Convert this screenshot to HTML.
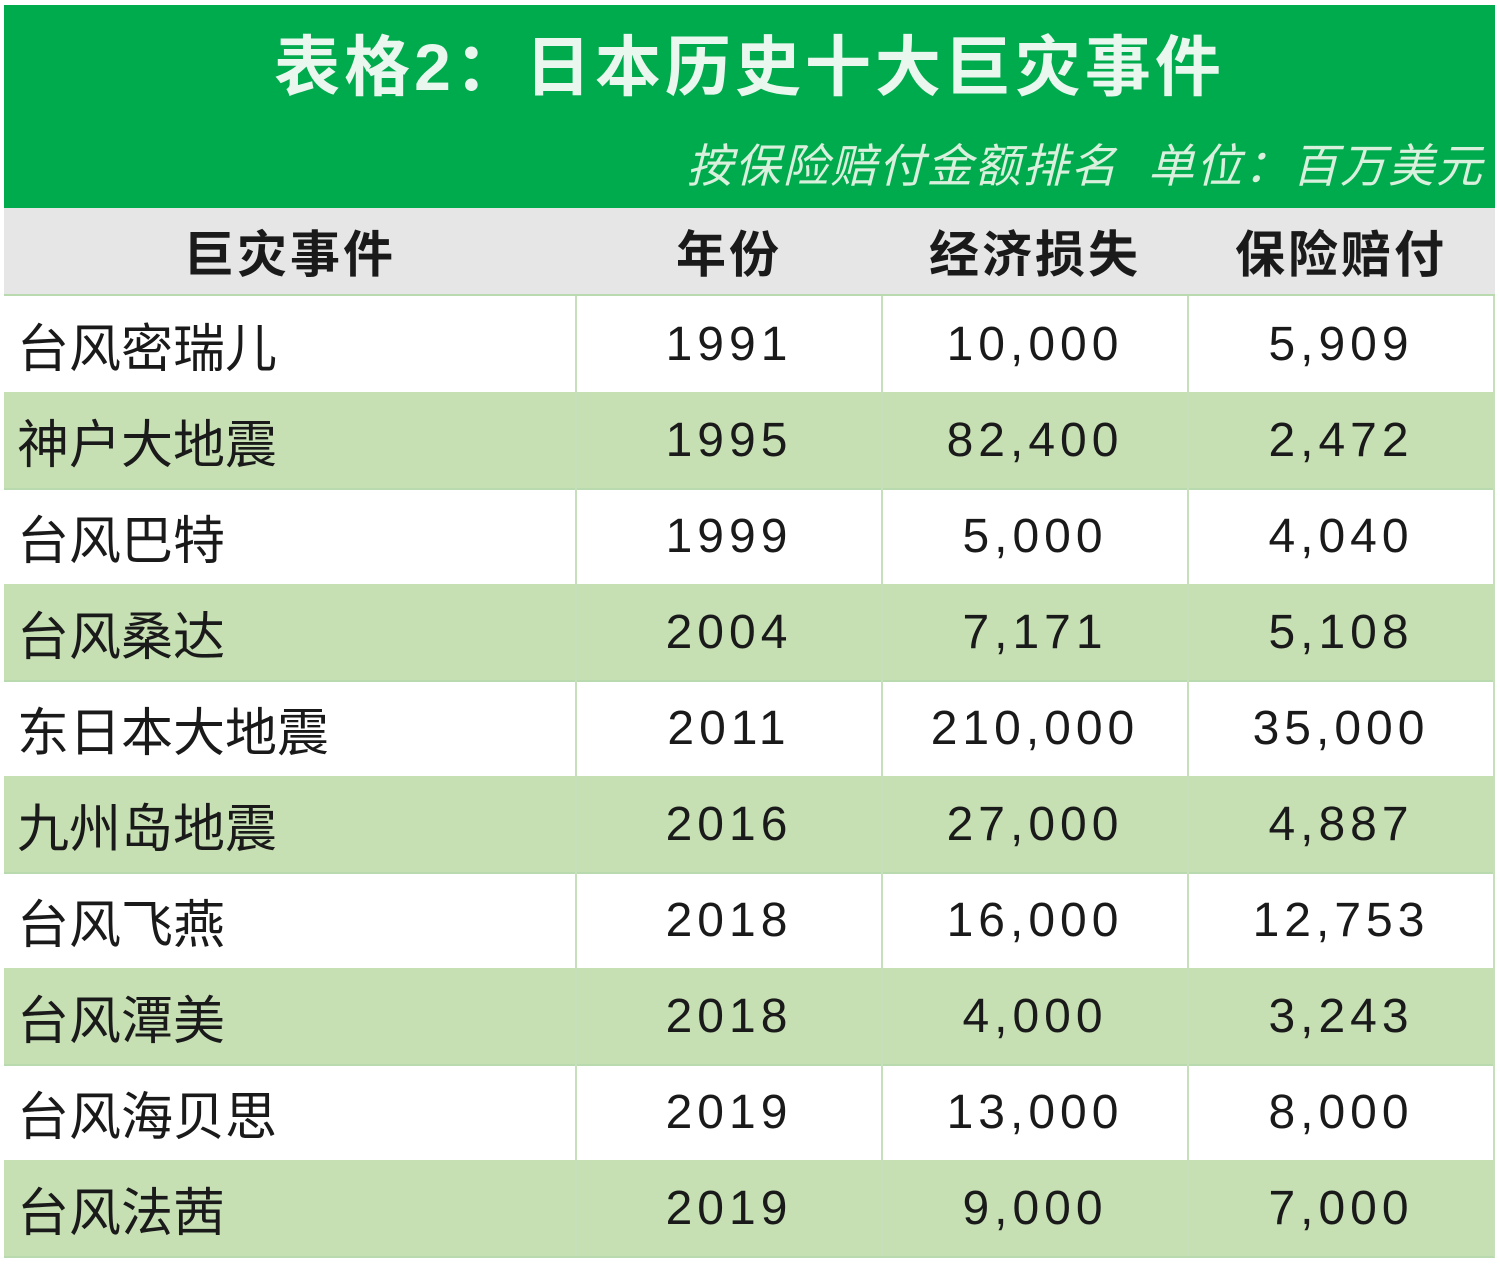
<!DOCTYPE html>
<html><head><meta charset="utf-8"><style>
body{margin:0;width:1500px;height:1264px;background:#fff;position:relative;overflow:hidden;font-family:"Liberation Sans","Noto Sans CJK SC",sans-serif;}
.g{position:absolute;left:4px;top:5px;width:1491px;height:203px;background:#00ab4e;}
.t{position:absolute;left:4px;top:22px;width:1491px;text-align:center;color:#eaf7ee;font-size:66px;font-weight:bold;line-height:90px;letter-spacing:4px;}
.s{position:absolute;right:16px;top:136px;color:#d8f0dc;font-size:46px;font-style:italic;line-height:60px;letter-spacing:2px;}
.h{position:absolute;left:4px;top:208px;width:1491px;height:86px;background:#e6e6e6;border-bottom:2px solid #b9d9ae;}
.r{position:absolute;left:4px;width:1489px;height:96px;border-bottom:2px solid #b9d9ae;border-right:2px solid #c5e0bb;}
.r.a{background:#c6e0b4;}
.c{position:absolute;top:0;height:100%;display:flex;align-items:center;justify-content:center;color:#1a1a1a;font-size:48px;letter-spacing:5px;}
.hc{font-weight:bold;font-size:50px;letter-spacing:3px;}
.v{position:absolute;top:0;width:2px;height:100%;background:#c5e0bb;}
</style></head><body>
<div class="g"></div>
<div class="t">表格2：日本历史十大巨灾事件</div>
<div class="s">按保险赔付金额排名&nbsp;&nbsp;单位：百万美元</div>
<div class="h">
<div class="c hc" style="left:0;width:572px">巨灾事件</div>
<div class="c hc" style="left:572px;width:306px">年份</div>
<div class="c hc" style="left:878px;width:306px">经济损失</div>
<div class="c hc" style="left:1184px;width:306px">保险赔付</div>
</div>
<div id="rows"></div>
<script>
var d=[["台风密瑞儿","1991","10,000","5,909"],["神户大地震","1995","82,400","2,472"],["台风巴特","1999","5,000","4,040"],["台风桑达","2004","7,171","5,108"],["东日本大地震","2011","210,000","35,000"],["九州岛地震","2016","27,000","4,887"],["台风飞燕","2018","16,000","12,753"],["台风潭美","2018","4,000","3,243"],["台风海贝思","2019","13,000","8,000"],["台风法茜","2019","9,000","7,000"]];
var h="";
d.forEach(function(r,i){
h+='<div class="r'+(i%2?' a':'')+'" style="top:'+(296+i*96)+'px">'+
'<div class="c" style="left:13px;justify-content:flex-start;font-size:52px;letter-spacing:0">'+r[0]+'</div>'+
'<div class="v" style="left:571px"></div><div class="v" style="left:877px"></div><div class="v" style="left:1183px"></div>'+
'<div class="c" style="left:572px;width:306px">'+r[1]+'</div>'+
'<div class="c" style="left:878px;width:306px">'+r[2]+'</div>'+
'<div class="c" style="left:1184px;width:306px">'+r[3]+'</div></div>';
});
document.getElementById("rows").innerHTML=h;
</script>
</body></html>
